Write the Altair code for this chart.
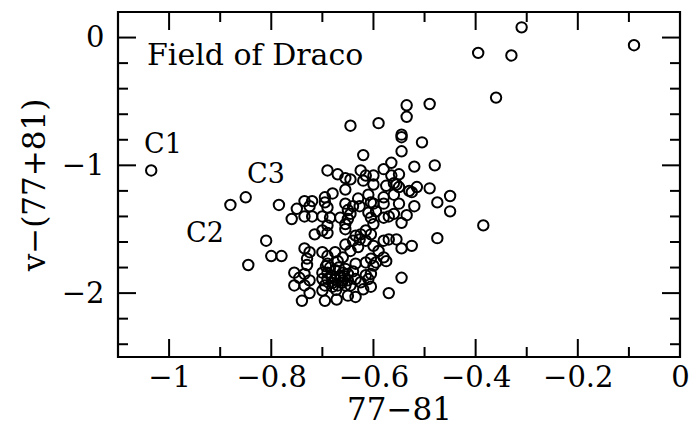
import altair as alt
import pandas as pd

# Photometric colours of stars in the field of Draco
color_77_81 = [
    -0.31, -0.395, -0.33, -0.09, -0.36, -0.49, -0.535, -0.535, -0.545, -0.545,
    -0.505, -0.545, -0.52, -0.48, -0.55, -0.49, -0.515, -0.53, -0.55, -0.45,
    -0.475, -0.45, -0.52, -0.535, -0.545, -0.385, -0.475, -0.525, -0.545, -0.545,
    -0.645, -0.59, -0.62, -0.565, -0.58, -0.69, -0.67, -0.655, -0.645, -0.625,
    -0.615, -0.60, -0.62, -0.60, -0.565, -0.56, -0.555, -0.655, -0.68, -0.695,
    -0.575, -0.525, -0.56, -0.57, -0.58, -0.595, -0.60, -0.605, -0.58, -0.61,
    -0.55, -0.56, -0.60, -0.605, -0.58, -0.57, -0.555, -0.60, -0.59, -0.58,
    -0.575, -0.595, -0.605, -0.61, -0.605, -0.57, -1.035, -0.85, -0.88, -0.785,
    -0.735, -0.72, -0.725, -0.75, -0.735, -0.72, -0.76, -0.715, -0.81, -0.80,
    -0.78, -0.845, -0.755, -0.725, -0.73, -0.73, -0.735, -0.70, -0.69, -0.655,
    -0.625, -0.615, -0.64, -0.627, -0.615, -0.63, -0.645, -0.655, -0.70, -0.69,
    -0.675, -0.66, -0.67, -0.69, -0.655, -0.635, -0.615, -0.60, -0.605, -0.70,
    -0.69, -0.675, -0.66, -0.65, -0.70, -0.69, -0.675, -0.66, -0.65, -0.635,
    -0.695, -0.68, -0.67, -0.655, -0.645, -0.625, -0.615, -0.62, -0.745, -0.755,
    -0.735, -0.725, -0.74, -0.695, -0.672, -0.65, -0.635, -0.63, -0.58, -0.69,
    -0.64, -0.645, -0.65, -0.61, -0.665, -0.655, -0.635, -0.735, -0.725, -0.70,
    -0.627, -0.605, -0.655, -0.65, -0.695, -0.70, -0.685, -0.69,
    -0.685, -0.668, -0.683, -0.665, -0.68, -0.662, -0.693, -0.673, -0.657, -0.64,
]
v_minus_77_81 = [
    0.08, -0.12, -0.14, -0.06, -0.47, -0.52, -0.53, -0.62, -0.76, -0.78,
    -0.82, -0.89, -1.01, -1.00, -1.07, -1.18, -1.17, -1.20, -1.17, -1.24,
    -1.29, -1.36, -1.32, -1.39, -1.45, -1.47, -1.57, -1.63, -1.65, -1.88,
    -0.69, -0.67, -0.92, -0.98, -1.03, -1.04, -1.07, -1.10, -1.11, -1.04,
    -1.08, -1.08, -1.12, -1.15, -1.08, -1.14, -1.15, -1.19, -1.22, -1.25,
    -1.16, -1.21, -1.38, -1.40, -1.41, -1.36, -1.30, -1.29, -1.30, -1.23,
    -1.30, -1.23, -1.46, -1.54, -1.59, -1.58, -1.58, -1.63, -1.67, -1.72,
    -1.75, -1.76, -1.73, -1.89, -1.95, -2.00, -1.04, -1.25, -1.31, -1.31,
    -1.28, -1.28, -1.32, -1.34, -1.40, -1.40, -1.42, -1.54, -1.59, -1.71,
    -1.71, -1.78, -1.84, -1.68, -1.73, -1.78, -1.85, -1.51, -1.53, -1.50,
    -1.54, -1.51, -1.59, -1.58, -1.59, -1.64, -1.67, -1.62, -1.68, -1.71,
    -1.68, -1.72, -1.75, -1.77, -1.81, -1.77, -1.76, -1.785, -1.85, -1.84,
    -1.84, -1.82, -1.84, -1.85, -1.89, -1.89, -1.89, -1.90, -1.90, -1.89,
    -1.94, -1.95, -1.94, -1.94, -1.94, -1.915, -1.86, -1.97, -1.88, -1.94,
    -1.94, -2.00, -2.06, -2.06, -2.05, -2.02, -2.03, -1.26, -1.25, -1.33,
    -1.32, -1.38, -1.42, -1.37, -1.41, -1.46, -1.55, -1.65, -1.90, -1.98,
    -1.32, -1.41, -1.30, -1.35, -1.29, -1.40, -1.41, -1.47,
    -1.80, -1.80, -1.865, -1.865, -1.92, -1.92, -1.79, -1.975, -1.87, -1.83,
]

x_domain = [-1.1, 0.0]
y_domain = [-2.5, 0.2]
x_major = [-1.0, -0.8, -0.6, -0.4, -0.2, 0.0]
x_minor = [-1.1, -0.9, -0.7, -0.5, -0.3, -0.1]
y_major = [-2.0, -1.0, 0.0]
y_minor = [-2.4, -2.2, -1.8, -1.6, -1.4, -1.2, -0.8, -0.6, -0.4, -0.2, 0.2]

W, H = 562, 345
FONT = "DejaVu Serif"
FS = 29
TFS = 31
MAJOR, MINOR = 18, 10

stars = pd.DataFrame({"c": color_77_81, "v": v_minus_77_81})
xs = alt.Scale(domain=x_domain, nice=False, zero=False)
ys = alt.Scale(domain=y_domain, nice=False, zero=False)

points = alt.Chart(stars).mark_point(
    shape="circle", filled=False, size=108, stroke="black", strokeWidth=2, opacity=1
).encode(
    x=alt.X("c:Q", scale=xs, title="77−81",
            axis=alt.Axis(values=x_major, format="~g")),
    y=alt.Y("v:Q", scale=ys, title="v−(77+81)",
            axis=alt.Axis(values=y_major, format="~g")),
)


def x_ticks(vals, length, top):
    df = pd.DataFrame({"t": vals})
    y0, y1 = (0, length) if top else (H, H - length)
    return alt.Chart(df).mark_rule(color="black", strokeWidth=2).encode(
        x=alt.X("t:Q", scale=xs), y=alt.value(y0), y2=alt.value(y1)
    )


def y_ticks(vals, length, right):
    df = pd.DataFrame({"t": vals})
    x0, x1 = (W, W - length) if right else (0, length)
    return alt.Chart(df).mark_rule(color="black", strokeWidth=2).encode(
        y=alt.Y("t:Q", scale=ys), x=alt.value(x0), x2=alt.value(x1)
    )


ticks = [
    x_ticks(x_major, MAJOR, False), x_ticks(x_minor, MINOR, False),
    x_ticks(x_major, MAJOR, True), x_ticks(x_minor, MINOR, True),
    y_ticks(y_major, MAJOR, False), y_ticks(y_minor, MINOR, False),
    y_ticks(y_major, MAJOR, True), y_ticks(y_minor, MINOR, True),
]


def label(text, px, py, size):
    return alt.Chart(pd.DataFrame({"s": [text]})).mark_text(
        font=FONT, fontSize=size, align="left", baseline="alphabetic", color="black"
    ).encode(text="s:N", x=alt.value(px), y=alt.value(py))


labels = [
    label("Field of Draco", 29, 53, 30),
    label("C1", 26, 141, 27),
    label("C2", 68, 230, 27),
    label("C3", 129, 171, 27),
]

chart = alt.layer(points, *ticks, *labels).properties(
    width=W,
    height=H,
    padding={"left": 118, "top": 12, "right": 11, "bottom": 75},
    autosize=alt.AutoSizeParams(type="none"),
).configure_view(
    stroke="black", strokeWidth=2.2
).configure_axis(
    ticks=False, domain=False, grid=False,
    labelFont=FONT, labelFontSize=FS, labelColor="black",
    labelFlush=False, labelOverlap=False,
    titleFont=FONT, titleFontSize=TFS, titleFontWeight="normal", titleColor="black",
).configure_axisX(
    labelPadding=6, titlePadding=3
).configure_axisY(
    labelPadding=14, titlePadding=10
)

chart.save("out.html", embed_options={"renderer": "svg", "actions": False})
